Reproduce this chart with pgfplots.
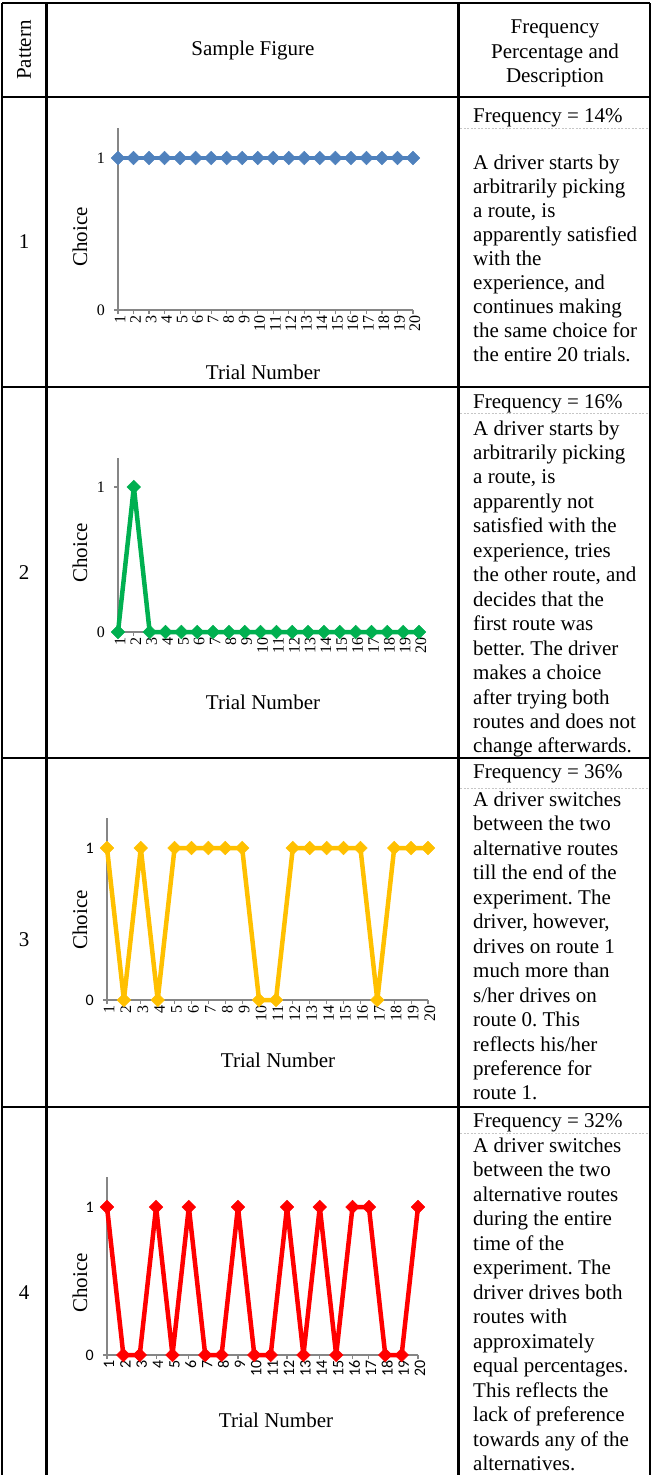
\documentclass[border=0pt]{standalone}
\usepackage{pgfplots}
\pgfplotsset{compat=1.18}
\usepackage{fontspec}
\setmainfont{Liberation Serif}
\newfontfamily\calibri{Carlito}
\frenchspacing
\definecolor{xblue}{HTML}{4F81BD}
\definecolor{xgreen}{HTML}{00B050}
\definecolor{xgold}{HTML}{FFC000}
\definecolor{xred}{HTML}{FF0000}
\definecolor{axgray}{HTML}{868686}
\newcommand{\bigtxt}{\fontsize{21bp}{24.5bp}\selectfont}
\newcommand{\ticktxt}{\fontsize{16bp}{18bp}\selectfont}
\pgfplotsset{
  trial/.style={
    scale only axis,
    anchor=south west,
    xmin=1, xmax=20, ymin=0, ymax=1.2,
    axis x line*=bottom, axis y line*=left,
    axis line style={axgray, line width=1.5bp, -},
    xtick={1,...,20}, ytick={0,1},
    tick align=outside,
    major tick length=4bp,
    tick style={axgray, line width=1.2bp},
    /pgf/number format/assume math mode=true,
    xticklabel style={rotate=90, anchor=east, inner sep=1.5bp, yshift=-2bp, font=\ticktxt},
    yticklabel style={font=\ticktxt, inner sep=2bp, xshift=-7bp},
    clip=false,
  },
  dline/.style={line width=4.5bp, line join=round, mark=square*, mark size=4.8bp, mark options={rotate=45, line width=0.5bp, line join=miter}},
}
\begin{document}
\begin{tikzpicture}
\useasboundingbox (0,0) rectangle (652bp,-1475bp);
% ---------- Plot 1
\begin{axis}[trial, at={(118bp,-310bp)}, width=295bp, height=182.4bp]
\addplot[dline, color=xblue, line width=3.8bp] coordinates {
(1,1)(2,1)(3,1)(4,1)(5,1)(6,1)(7,1)(8,1)(9,1)(10,1)
(11,1)(12,1)(13,1)(14,1)(15,1)(16,1)(17,1)(18,1)(19,1)(20,1)};
\end{axis}
% ---------- Plot 2
\begin{axis}[trial, at={(118bp,-632bp)}, width=301bp, height=174bp]
\addplot[dline, color=xgreen] coordinates {
(1,0)(2,1)(3,0)(4,0)(5,0)(6,0)(7,0)(8,0)(9,0)(10,0)
(11,0)(12,0)(13,0)(14,0)(15,0)(16,0)(17,0)(18,0)(19,0)(20,0)};
\end{axis}
% ---------- Plot 3
\begin{axis}[trial, at={(107bp,-1000bp)}, width=321bp, height=182.4bp,
  yticklabel style={font=\calibri\ticktxt}]
\addplot[dline, color=xgold] coordinates {
(1,1)(2,0)(3,1)(4,0)(5,1)(6,1)(7,1)(8,1)(9,1)(10,0)
(11,0)(12,1)(13,1)(14,1)(15,1)(16,1)(17,0)(18,1)(19,1)(20,1)};
\end{axis}
% ---------- Plot 4
\begin{axis}[trial, at={(107bp,-1355bp)}, width=311bp, height=177.6bp,
  yticklabel style={font=\calibri\ticktxt},
  xticklabel style={font=\calibri\ticktxt}]
\addplot[dline, color=xred] coordinates {
(1,1)(2,0)(3,0)(4,1)(5,0)(6,1)(7,0)(8,0)(9,1)(10,0)
(11,0)(12,1)(13,0)(14,1)(15,0)(16,1)(17,1)(18,0)(19,0)(20,1)};
\end{axis}

\begin{scope}[x=1bp,y=-1bp]
% table rules
\draw[line width=2.5bp] (2,3) -- (650,3);
\foreach \yy in {97,387,758,1107} \draw[line width=2.5bp] (2,\yy) -- (650,\yy);
\foreach \xx in {2,46.5,458.5,650} \draw[line width=2.5bp] (\xx,3) -- (\xx,1480);
% dashed separators
\foreach \yy in {128,413,788,1133} \draw[gray!45, line width=0.8bp, dash pattern=on 2bp off 1.5bp] (460,\yy) -- (649,\yy);
% header
\node[rotate=90, font=\bigtxt] at (24,50) {Pattern};
\node[font=\bigtxt] at (253,50) {Sample Figure};
\node[font=\bigtxt, anchor=base] at (555,33) {Frequency};
\node[font=\bigtxt, anchor=base] at (555,58) {Percentage and};
\node[font=\bigtxt, anchor=base] at (555,82.5) {Description};
% pattern numbers
\node[font=\bigtxt] at (24,242) {1};
\node[font=\bigtxt] at (24,573) {2};
\node[font=\bigtxt] at (24,940) {3};
\node[font=\bigtxt] at (24,1293) {4};
% axis titles
\foreach \cy/\tx/\ty in {237/263/372, 553/263/702, 920/278/1060, 1283/276/1420}{
  \node[rotate=90, font=\bigtxt] at (80,\cy) {Choice};
  \node[font=\bigtxt] at (\tx,\ty) {Trial Number};
}
% descriptions
\begin{scope}[every node/.style={font=\bigtxt, anchor=base west, inner sep=0pt}]
\node at (473,122) {Frequency = 14\%};
\foreach \t [count=\i from 0] in {A driver starts by, arbitrarily picking, {a route, is}, apparently satisfied, with the, {experience, and}, continues making, the same choice for, the entire 20 trials.}
  \node at (473,169+24.1*\i) {\t};
\node at (473,408) {Frequency = 16\%};
\foreach \t [count=\i from 0] in {A driver starts by, arbitrarily picking, {a route, is}, apparently not, satisfied with the, {experience, tries}, {the other route, and}, decides that the, first route was, better. The driver, makes a choice, after trying both, routes and does not, change afterwards.}
  \node at (473,435+24.46*\i) {\t};
\node at (473,778) {Frequency = 36\%};
\foreach \t [count=\i from 0] in {A driver switches, between the two, alternative routes, till the end of the, experiment. The, {driver, however,}, drives on route 1, much more than, s/her drives on, route 0. This, reflects his/her, preference for, route 1.}
  \node at (473,806.5+24.45*\i) {\t};
\node at (473,1127) {Frequency = 32\%};
\foreach \t [count=\i from 0] in {A driver switches, between the two, alternative routes, during the entire, time of the, experiment. The, driver drives both, routes with, approximately, equal percentages., This reflects the, lack of preference, towards any of the, alternatives.}
  \node at (473,1152+24.5*\i) {\t};
\end{scope}
\end{scope}
\end{tikzpicture}
\end{document}
